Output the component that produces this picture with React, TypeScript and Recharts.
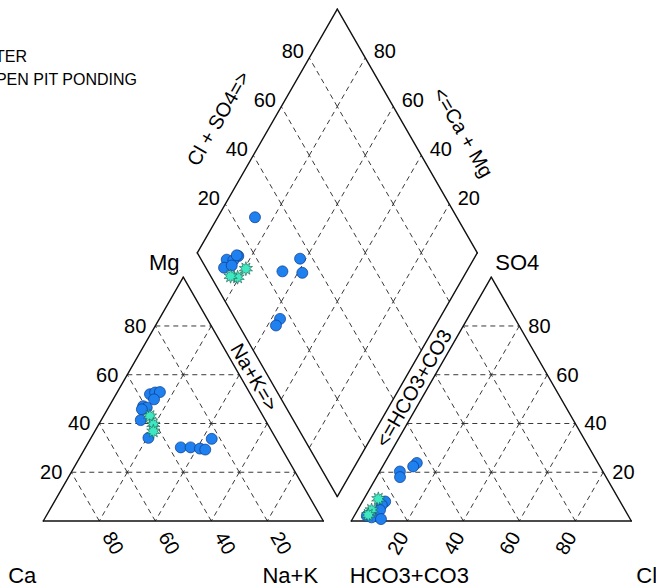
import React from "react";
import { ScatterChart, Scatter, XAxis, YAxis, ReferenceLine } from "recharts";

const W = 656;
const H = 587;
const FONT = "'Liberation Sans', Arial, sans-serif";

// pixel placement of the Ca corner and px per percent unit
const OX = 43.3;
const OY = 521;
const KX = 2.8;
const KY = 2.815;
const GAP = 10;
const S3 = Math.sqrt(3) / 2;

const X_DOMAIN = [-OX / KX, (W - OX) / KX];
const Y_DOMAIN = [(OY - H) / KY, OY / KY];

const TICKS = [20, 40, 60, 80];

// cations, % meq: [Ca, Mg, Na+K]
const cationsGw = [
  [35.9, 52.0, 12.1],
  [33.7, 52.7, 13.6],
  [31.9, 52.9, 15.2],
  [35.5, 49.9, 14.6],
  [40.8, 47.1, 12.1],
  [39.8, 46.5, 13.7],
  [41.9, 45.8, 12.3],
  [44.5, 41.4, 14.1],
  [45.4, 34.1, 20.5],
  [35.8, 30.2, 34.0],
  [32.3, 30.2, 37.5],
  [29.2, 29.7, 41.1],
  [27.5, 29.3, 43.2],
  [23.0, 33.7, 43.3],
];
const cationsPond = [
  [40.4, 43.0, 16.6],
  [40.9, 39.6, 19.5],
  [42.3, 36.8, 20.9],
];

// anions, % meq: [HCO3+CO3, SO4, Cl]
const anionsGw = [
  [64.7, 23.8, 11.5],
  [66.7, 22.4, 10.9],
  [72.5, 20.3, 7.2],
  [73.6, 18.0, 8.4],
  [83.9, 8.0, 8.1],
  [85.8, 6.6, 7.6],
  [87.5, 4.5, 8.0],
  [93.4, 2.1, 4.5],
  [92.0, 1.5, 6.5],
  [89.0, 0.8, 10.2],
];
const anionsPond = [
  [85.8, 9.1, 5.1],
  [90.5, 4.5, 5.0],
  [92.7, 2.5, 4.8],
];

// diamond: [Ca+Mg, Cl+SO4]
const diamondGw = [
  [86.7, 27.9],
  [84.7, 14.0],
  [88.1, 9.1],
  [85.6, 11.3],
  [87.4, 6.5],
  [85.1, 9.7],
  [85.4, 13.6],
  [62.1, 35.5],
  [58.4, 33.4],
  [65.8, 26.6],
  [56.9, 16.0],
  [57.0, 13.2],
];
const diamondPond = [
  [79.4, 14.1],
  [80.6, 9.4],
  [83.3, 7.1],
];

const legendNames = ["GROUNDWATER", "OPEN PIT PONDING"];

type Pt = { x: number; y: number };

// ternary -> plot units
const cat = (ca: number, mg: number, na: number): Pt => ({ x: na + mg / 2, y: mg * S3 });
const ani = (hc: number, so4: number, cl: number): Pt => ({ x: 100 + GAP + cl + so4 / 2, y: so4 * S3 });
const dia = (camg: number, clso4: number): Pt => ({
  x: 100 + GAP / 2 - camg / 2 + clso4 / 2,
  y: GAP * S3 + (camg + clso4) * S3,
});
const fromPx = (px: number, py: number): Pt => ({ x: (px - OX) / KX, y: (OY - py) / KY });

// grid segments, broken at every node
function triGrid(proj: (a: number, b: number, c: number) => Pt) {
  const segs: Pt[][] = [];
  for (let f = 0; f < 3; f++) {
    for (const c of TICKS) {
      for (let j = 0; j + 20 <= 100 - c; j += 20) {
        const mk = (q: number) => {
          const v = [0, 0, 0];
          v[f] = c;
          v[(f + 1) % 3] = q;
          v[(f + 2) % 3] = 100 - c - q;
          return proj(v[0], v[1], v[2]);
        };
        segs.push([mk(j), mk(j + 20)]);
      }
    }
  }
  return segs;
}
const diaGrid: Pt[][] = [];
for (const c of TICKS) {
  for (let j = 0; j < 100; j += 20) {
    diaGrid.push([dia(c, j), dia(c, j + 20)]);
    diaGrid.push([dia(j, c), dia(j + 20, c)]);
  }
}
const grid = [...triGrid(cat), ...triGrid(ani), ...diaGrid];

const outline = (pts: Pt[]) => pts.map((p, i) => [p, pts[(i + 1) % pts.length]]);
const edges = [
  ...outline([cat(100, 0, 0), cat(0, 0, 100), cat(0, 100, 0)]),
  ...outline([ani(100, 0, 0), ani(0, 0, 100), ani(0, 100, 0)]),
  ...outline([dia(0, 0), dia(100, 0), dia(100, 100), dia(0, 100)]),
];

const gwPts = [
  ...cationsGw.map((d) => cat(d[0], d[1], d[2])),
  ...anionsGw.map((d) => ani(d[0], d[1], d[2])),
  ...diamondGw.map((d) => dia(d[0], d[1])),
];
const pondPts = [
  ...cationsPond.map((d) => cat(d[0], d[1], d[2])),
  ...anionsPond.map((d) => ani(d[0], d[1], d[2])),
  ...diamondPond.map((d) => dia(d[0], d[1])),
];

type Lbl = Pt & { text: string; dx: number; dy: number; rot: number; anchor: string; size: number; base?: string };
const lbl = (p: Pt, text: string, dx: number, dy: number, rot = 0, anchor = "middle", size = 20, base = "central"): Lbl => ({
  ...p, text, dx, dy, rot, anchor, size, base,
});

const labels: Lbl[] = [
  ...TICKS.map((t) => lbl(cat(100 - t, t, 0), String(t), -9, 0, 0, "end")),
  ...TICKS.map((t) => lbl(cat(t, 0, 100 - t), String(t), 14, 22, 60)),
  ...TICKS.map((t) => lbl(ani(0, t, 100 - t), String(t), 9, 0, 0, "start")),
  ...TICKS.map((t) => lbl(ani(100 - t, 0, t), String(t), -9.5, 22, -60)),
  ...TICKS.map((t) => lbl(dia(100, t), String(t), -16.5, -6.5)),
  ...TICKS.map((t) => lbl(dia(t, 100), String(t), 19.5, -6.5)),
  lbl(dia(100, 50), "Cl + SO4=>", -49, -12.5, -60),
  lbl(dia(50, 100), "<=Ca + Mg", 56, 1.5, 60),
  lbl(cat(0, 50, 50), "Na+K=>", 1, -22, 60),
  lbl(ani(50, 50, 0), "<=HCO3+CO3", -7.7, -11, -60),
  lbl(cat(0, 100, 0), "Mg", -19, -15, 0, "middle", 22),
  lbl(ani(0, 100, 0), "SO4", 26, -15, 0, "middle", 22),
  lbl(cat(100, 0, 0), "Ca", -21, 54, 0, "middle", 22),
  lbl(cat(0, 0, 100), "Na+K", -33, 54, 0, "middle", 22),
  lbl(ani(100, 0, 0), "HCO3+CO3", 58, 54, 0, "middle", 22),
  lbl(ani(0, 0, 100), "Cl", 5, 54, 0, "start", 22),
  lbl(fromPx(27, 61.5), legendNames[0], 0, 0, 0, "end", 16, "auto"),
  lbl(fromPx(137, 85), legendNames[1], 0, 0, 0, "end", 16, "auto"),
];

const Circle = (p: any) => (
  <circle cx={p.cx} cy={p.cy} r={5.5} fill="#1f80f0" stroke="#0c3a86" strokeWidth={0.7} />
);

function Star(p: any) {
  const n = 10;
  const pts: string[] = [];
  for (let i = 0; i < n * 2; i++) {
    const r = i % 2 === 0 ? 7 : 3.8;
    const a = (Math.PI * i) / n - Math.PI / 2;
    pts.push(`${(p.cx + r * Math.cos(a)).toFixed(2)},${(p.cy + r * Math.sin(a)).toFixed(2)}`);
  }
  return <polygon points={pts.join(" ")} fill="#3ee8c0" stroke="#1c5a4c" strokeWidth={0.6} />;
}

function LabelShape(p: any) {
  const d = p.payload as Lbl;
  const x = p.cx + d.dx;
  const y = p.cy + d.dy;
  return (
    <text
      x={x}
      y={y}
      textAnchor={d.anchor as any}
      dominantBaseline={d.base as any}
      fontSize={d.size}
      fontFamily={FONT}
      fill="#000"
      transform={d.rot ? `rotate(${d.rot} ${x} ${y})` : undefined}
    >
      {d.text}
    </text>
  );
}

export default function App() {
  return (
    <div style={{ position: "absolute", left: 0, top: 0, width: W, height: H, background: "#fff", overflow: "hidden" }}>
      <ScatterChart width={W} height={H} margin={{ top: 0, right: 0, bottom: 0, left: 0 }}>
        <XAxis type="number" dataKey="x" domain={X_DOMAIN} hide allowDataOverflow />
        <YAxis type="number" dataKey="y" domain={Y_DOMAIN} hide allowDataOverflow />
        {grid.map((s, i) => (
          <ReferenceLine key={`g${i}`} segment={s} stroke="#222" strokeWidth={0.9} strokeDasharray="5 4" />
        ))}
        {edges.map((s, i) => (
          <ReferenceLine key={`e${i}`} segment={s} stroke="#111" strokeWidth={1.4} strokeLinecap="round" />
        ))}
        <Scatter data={gwPts} shape={Circle} isAnimationActive={false} />
        <Scatter data={pondPts} shape={Star} isAnimationActive={false} />
        <Scatter data={labels} shape={LabelShape} isAnimationActive={false} />
      </ScatterChart>
    </div>
  );
}
